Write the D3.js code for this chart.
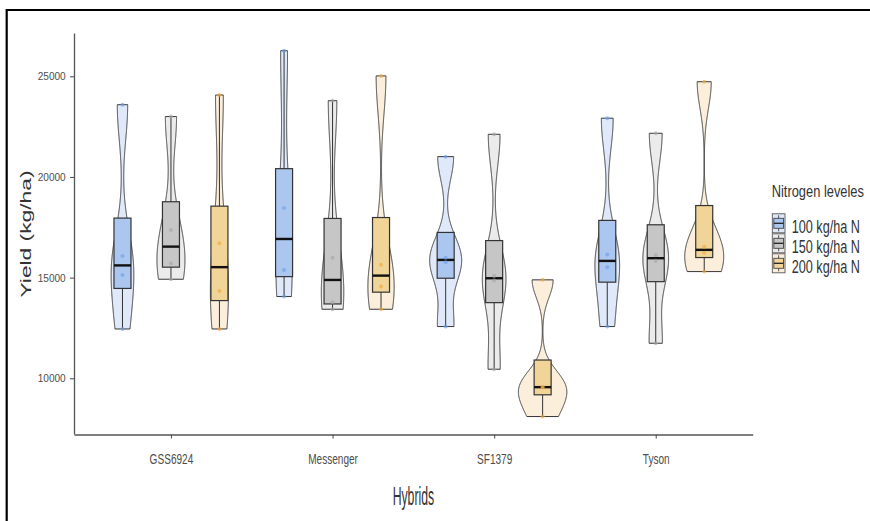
<!DOCTYPE html>
<html>
<head>
<meta charset="utf-8">
<script src="https://cdn.jsdelivr.net/npm/d3@7"></script>
<style>
  body { margin: 0; background: #fff; }
  text { font-family: "Liberation Sans", Arial, sans-serif; }
</style>
</head>
<body>
<script>
if(!d3){
    throw new Error("d3 failed to load");
}

// data, four plots per hybrid x nitrogen level
const hybrids = ["GSS6924", "Messenger", "SF1379", "Tyson"];
const levels = ["100 kg/ha N", "150 kg/ha N", "200 kg/ha N"];
const yield100 = [
    [12450, 15135, 16080, 23590],
    [14060, 15380, 18460, 26270],
    [12570, 15770, 15990, 21010],
    [12570, 15510, 16150, 22920]
];
const yield150 = [
    [14920, 15720, 17360, 23000],
    [13430, 13780, 15990, 23790],
    [10450, 14860, 15080, 22120],
    [11740, 15820, 16110, 22170]
];
const yield200 = [
    [12450, 14330, 16710, 24070],
    [13430, 14560, 15640, 25020],
    [8100, 9540, 9580, 14890],
    [15300, 16230, 16530, 24730]
];
const yTicks = [10000, 15000, 20000, 25000];

const violinFill = ["#dfe9f9", "#ebebeb", "#fbefdc"];
const boxFill = ["#abc7ef", "#c6c6c6", "#f1d497"];
const dotFill = ["#6f9fe8", "#a8a8a8", "#f0aa3c"];

const W = 870, H = 521;
const svg = d3.select("body").append("svg").attr("width", W).attr("height", H);

// outer frame (only left and top edges are visible)
svg.append("path")
    .attr("d", "M6.7,521V10H870")
    .attr("fill", "none").attr("stroke", "#000").attr("stroke-width", 2.2);

const x = d3.scalePoint().domain(hybrids).range([74, 752.7]).padding(0.6);
const step = x.step();
const dodge = d3.scaleBand().domain(levels).range([-0.45 * step, 0.45 * step]);
const y = d3.scaleLinear().domain([7233, 27151]).range([434, 33]);

const series = [yield100, yield150, yield200];

// gaussian kde with R's bw.nrd0, trimmed to data range
const nrd0 = (v) => {
    const sd = d3.deviation(v);
    const iqr = d3.quantile(v, 0.75) - d3.quantile(v, 0.25);
    const lo = Math.min(sd, iqr / 1.34) || sd || 1;
    return 0.9 * lo * Math.pow(v.length, -0.2);
};
const kde = (v) => {
    const bw = nrd0(v);
    const lo = d3.min(v), hi = d3.max(v);
    const pts = [];
    for(let k = 0; k < 512; k++){
        const t = lo + (hi - lo) * k / 511;
        const d = d3.sum(v, xi => Math.exp(-0.5 * ((t - xi) / bw) ** 2)) / (v.length * bw * Math.sqrt(2 * Math.PI));
        pts.push({t, d});
    }
    return pts;
};

const groups = [];
hybrids.forEach((h, i) => {
    levels.forEach((l, j) => {
        const vals = series[j][i].slice().sort(d3.ascending);
        const q1 = d3.quantile(vals, 0.25), med = d3.quantile(vals, 0.5), q3 = d3.quantile(vals, 0.75);
        const iqr = q3 - q1;
        const lowW = d3.min(vals.filter(v => v >= q1 - 1.5 * iqr));
        const highW = d3.max(vals.filter(v => v <= q3 + 1.5 * iqr));
        groups.push({h, l, j, vals, q1, med, q3, lowW, highW,
            cx: x(h) + dodge(l) + dodge.bandwidth() / 2, dens: kde(vals)});
    });
});
const maxD = d3.max(groups, g => d3.max(g.dens, p => p.d));
const halfW = dodge.bandwidth() / 2;

const plot = svg.append("g");

// violins
groups.forEach(g => {
    const area = d3.area()
        .y(p => y(p.t))
        .x0(p => g.cx - p.d / maxD * halfW)
        .x1(p => g.cx + p.d / maxD * halfW);
    plot.append("path")
        .attr("d", area(g.dens))
        .attr("fill", violinFill[g.j])
        .attr("stroke", "#363636").attr("stroke-width", 1);
});

// boxplots
const boxW = 17;
groups.forEach(g => {
    const b = plot.append("g");
    b.append("line").attr("x1", g.cx).attr("x2", g.cx)
        .attr("y1", y(g.q3)).attr("y2", y(g.highW))
        .attr("stroke", "#333").attr("stroke-width", 1);
    b.append("line").attr("x1", g.cx).attr("x2", g.cx)
        .attr("y1", y(g.q1)).attr("y2", y(g.lowW))
        .attr("stroke", "#333").attr("stroke-width", 1);
    b.append("rect")
        .attr("x", g.cx - boxW / 2).attr("width", boxW)
        .attr("y", y(g.q3)).attr("height", y(g.q1) - y(g.q3))
        .attr("fill", boxFill[g.j])
        .attr("stroke", "#333").attr("stroke-width", 1.2);
    b.append("line")
        .attr("x1", g.cx - boxW / 2).attr("x2", g.cx + boxW / 2)
        .attr("y1", y(g.med)).attr("y2", y(g.med))
        .attr("stroke", "#111").attr("stroke-width", 2.4);
});

// raw points
groups.forEach(g => {
    plot.selectAll(null).data(g.vals).enter().append("circle")
        .attr("cx", g.cx).attr("cy", d => y(d)).attr("r", 2)
        .attr("fill", dotFill[g.j]).attr("opacity", 0.65);
});

// axes
const yAxis = svg.append("g").attr("transform", "translate(74,0)")
    .call(d3.axisLeft(y).tickValues(yTicks).tickSize(4).tickSizeOuter(0).tickFormat(d3.format("d")));
const fy = 0.9;
yAxis.selectAll(".tick text")
    .attr("x", -8.3 / fy).attr("transform", `scale(${fy},1)`)
    .style("font-size", "11.2px").attr("fill", "#4d4d4d");

const xAxis = svg.append("g").attr("transform", "translate(0,434.5)")
    .call(d3.axisBottom(x).tickSize(4).tickSizeOuter(0));
const fx = 0.65;
xAxis.selectAll(".tick text")
    .attr("y", 18.5).attr("transform", `scale(${fx},1)`)
    .style("font-size", "15.5px").attr("fill", "#4d4d4d");

[yAxis, xAxis].forEach(a => {
    a.select(".domain").attr("stroke", "#555").attr("stroke-width", 1.3);
    a.selectAll(".tick line").attr("stroke", "#555").attr("stroke-width", 1.1);
});

// axis titles
const squishText = (gx, gy, rot, f, size, str, anchor, fill) => {
    svg.append("g").attr("transform", `translate(${gx},${gy}) rotate(${rot})`)
        .append("text").attr("transform", `scale(${f},1)`)
        .attr("text-anchor", anchor).style("font-size", size + "px").attr("fill", fill)
        .text(str);
};
squishText(413.4, 505, 0, 0.49, 25, "Hybrids", "middle", "#333");
squishText(30.7, 234, -90, 1.52, 15, "Yield (kg/ha)", "middle", "#333");

// legend
const lg = svg.append("g");
squishText(771.7, 196.7, 0, 0.79, 16.3, "Nitrogen leveles", "start", "#333");
levels.forEach((l, j) => {
    const ky = 213.3 + j * 20, kx = 772.3, kw = 12.7, kh = 20;
    const k = lg.append("g");
    k.append("rect").attr("x", kx).attr("y", ky + 0.5).attr("width", kw).attr("height", kh - 1)
        .attr("fill", violinFill[j]).attr("stroke", "#555").attr("stroke-width", 0.9);
    k.append("line").attr("x1", kx + kw / 2).attr("x2", kx + kw / 2)
        .attr("y1", ky + kh * 0.1).attr("y2", ky + kh * 0.9)
        .attr("stroke", "#444").attr("stroke-width", 0.9);
    k.append("rect").attr("x", kx + kw * 0.12).attr("y", ky + kh * 0.25)
        .attr("width", kw * 0.76).attr("height", kh * 0.5)
        .attr("fill", boxFill[j]).attr("stroke", "#444").attr("stroke-width", 0.9);
    k.append("line").attr("x1", kx + kw * 0.12).attr("x2", kx + kw * 0.88)
        .attr("y1", ky + kh / 2).attr("y2", ky + kh / 2)
        .attr("stroke", "#222").attr("stroke-width", 1.3);
    squishText(791.7, ky + 20, 0, 0.685, 18.5, l, "start", "#333");
});
</script>
</body>
</html>
